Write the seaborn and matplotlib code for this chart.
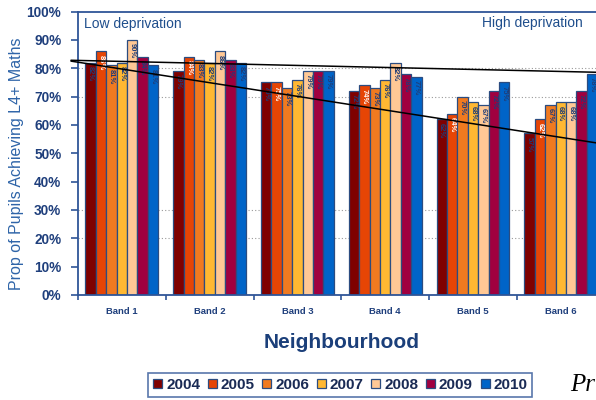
import matplotlib
matplotlib.use("Agg")
import matplotlib.pyplot as plt
import pandas as pd
import seaborn as sns

# Key Stage 2 maths attainment by neighbourhood deprivation band
bands = ["Band 1", "Band 2", "Band 3", "Band 4", "Band 5", "Band 6"]
years = ["2004", "2005", "2006", "2007", "2008", "2009", "2010"]
pct_2004 = [82, 79, 75, 72, 62, 57]
pct_2005 = [86, 84, 75, 74, 64, 62]
pct_2006 = [81, 83, 73, 73, 70, 67]
pct_2007 = [82, 82, 76, 76, 68, 68]
pct_2008 = [90, 86, 79, 82, 67, 68]
pct_2009 = [84, 83, 79, 78, 72, 72]
pct_2010 = [81, 82, 79, 77, 75, 78]

# hand-drawn trend lines (value at left end, value at right end)
trend_upper = [82.8, 78.5]
trend_lower = [82.5, 53.2]

year_colors = ["#7F0000", "#E64505", "#F07A20", "#FFB832",
               "#FFC895", "#A0003F", "#0064C8"]

series = [pct_2004, pct_2005, pct_2006, pct_2007, pct_2008, pct_2009, pct_2010]
rows = []
for yr, vals in zip(years, series):
    for b, v in zip(bands, vals):
        rows.append({"band": b, "year": yr, "pct": v})
df = pd.DataFrame(rows)

sns.set_style("white")
plt.rcParams["font.family"] = ["Liberation Sans", "DejaVu Sans"]

NAVY = "#1F3F7C"
AXIS_BLUE = "#2F5597"

fig = plt.figure(figsize=(5.96, 4.0), dpi=100)
ax = fig.add_axes([78 / 596, 105 / 400, 526.6 / 596, 283.5 / 400])

for g in [20, 30, 70, 80]:
    ax.axhline(g, color="#9A9A9A", lw=0.8, ls=(0, (1, 2)), zorder=0)

sns.barplot(data=df, x="band", y="pct", hue="year", order=bands,
            hue_order=years, palette=year_colors, saturation=1,
            width=0.83, edgecolor="#2B4C80", linewidth=0.9,
            legend=False, ax=ax, zorder=2)

# value labels inside the top of each bar
for i, cont in enumerate(ax.containers):
    col = "white" if years[i] == "2005" else "#1F3D78"
    for bar in cont.patches:
        h = bar.get_height()
        ax.text(bar.get_x() + bar.get_width() / 2, h - 1.2, f"{h:.0f}%",
                rotation=270, ha="center", va="top", fontsize=5.5,
                fontweight="bold", color=col, zorder=3)

# trend lines
ax.plot([-0.58, 5.5], trend_upper, color="black", lw=1.1, zorder=4, clip_on=False)
ax.plot([-0.58, 5.5], trend_lower, color="black", lw=1.1, zorder=4, clip_on=False)

ax.set_xlim(-0.5, 5.5)
ax.set_ylim(0, 100)
ax.set_yticks(range(0, 101, 10))
ax.set_yticklabels([f"{v}%" for v in range(0, 101, 10)])
ax.set_xticks(range(len(bands)))
ax.set_xticklabels(bands)
ax.set_xticks([i - 0.5 for i in range(len(bands) + 1)], minor=True)

ax.tick_params(axis="y", direction="out", length=5, width=1.2, color=AXIS_BLUE,
               pad=7, labelsize=9.8, labelcolor=NAVY, left=True)
ax.tick_params(axis="x", which="major", length=0, pad=9, labelsize=6.8,
               labelcolor=NAVY)
ax.tick_params(axis="x", which="minor", direction="out", length=3.5,
               width=1.2, color=AXIS_BLUE, bottom=True)
for lbl in ax.get_yticklabels() + ax.get_xticklabels():
    lbl.set_fontweight("bold")

for side in ["left", "bottom", "top", "right"]:
    ax.spines[side].set_color(AXIS_BLUE)
    ax.spines[side].set_linewidth(1.3)

ax.set_xlabel("Neighbourhood", fontsize=15, fontweight="bold", color="#1B3F7A",
              labelpad=12)
ax.set_ylabel("Prop of Pupils Achieving L4+ Maths", fontsize=11.5,
              color="#2E64A8")
ax.yaxis.set_label_coords(-0.102, 0.462)

ax.text(0.012, 0.955, "Low deprivation", transform=ax.transAxes, fontsize=10,
        color="#1F4E8C", ha="left", va="center")
fig.text(583 / 596, 1 - 23 / 400, "High deprivation", fontsize=10,
         color="#1F4E8C", ha="right", va="center")

handles = [c.patches[0] for c in ax.containers]
leg = fig.legend(handles, years, loc="center", bbox_to_anchor=(0.571, 0.0375),
                 ncol=7, frameon=True, fancybox=False, edgecolor=AXIS_BLUE,
                 handlelength=0.6, handleheight=0.6, handletextpad=0.25,
                 columnspacing=0.5, borderpad=0.3,
                 prop={"weight": "bold", "size": 11}, labelcolor="#1A2B55")
leg.get_frame().set_linewidth(1.2)

fig.text(570 / 596, 1 - 385 / 400, "Pr", fontsize=18, style="italic",
         family=["Liberation Serif", "DejaVu Serif"], color="black",
         ha="left", va="center")

fig.savefig("out.png", dpi=100)
